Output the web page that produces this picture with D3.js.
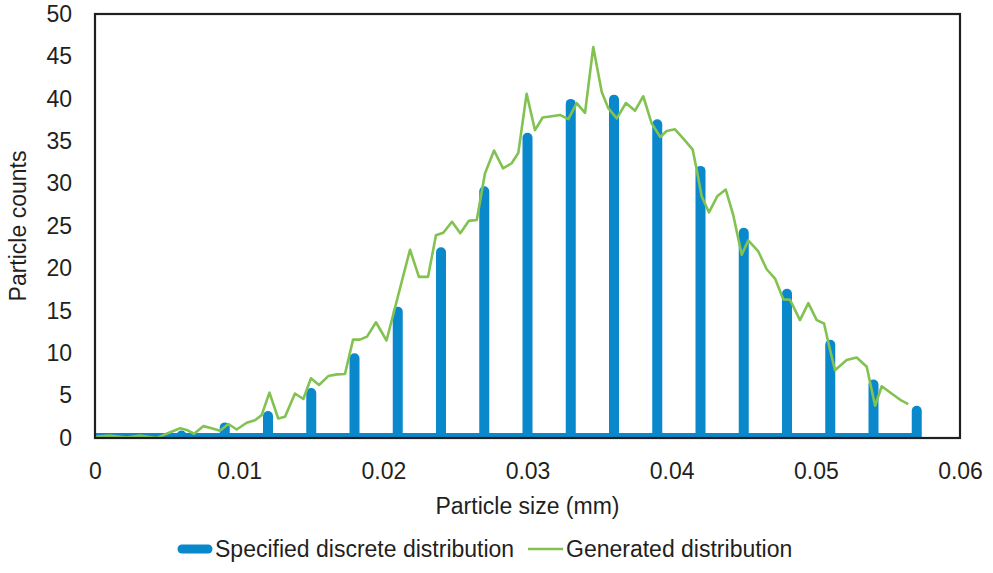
<!DOCTYPE html>
<html>
<head>
<meta charset="utf-8">
<script src="https://cdn.jsdelivr.net/npm/d3@7"></script>
<style>
body{ margin:0; background:#fff; }
text{ font-family: "Liberation Sans", Arial, sans-serif; fill:#231f20; }
</style>
</head>
<body>
<svg id="chart" width="993" height="573"></svg>
<script>
// specified discrete distribution (bars every 0.003 mm)
var barSizes = [0.003, 0.006, 0.009, 0.012, 0.015, 0.018, 0.021, 0.024, 0.027, 0.030,
	0.033, 0.036, 0.039, 0.042, 0.045, 0.048, 0.051, 0.054, 0.057];
var barCounts = [0.0, 0.3, 1.25, 2.6, 5.3, 9.4, 14.9, 21.9, 29.1, 35.4,
	39.4, 39.9, 37.0, 31.5, 24.2, 17.0, 11.0, 6.3, 3.2];

// generated distribution
var genSizes = [0, 0.00104, 0.0022, 0.00312, 0.00428, 0.00497, 0.0059, 0.00636, 0.00687, 0.00751,
	0.00809, 0.00867, 0.00925, 0.00983, 0.01052, 0.0111, 0.01156, 0.0121, 0.01271, 0.01318,
	0.01387, 0.01445, 0.01498, 0.01554, 0.01618, 0.01679, 0.01734, 0.0179, 0.01838, 0.01887,
	0.01949, 0.02022, 0.02185, 0.02247, 0.0231, 0.02365, 0.02416, 0.02476, 0.02534, 0.02592,
	0.02648, 0.02705, 0.02768, 0.0283, 0.0289, 0.02936, 0.02994, 0.03052, 0.03105, 0.03168,
	0.03225, 0.03283, 0.03341, 0.03399, 0.03456, 0.03515, 0.0356, 0.03619, 0.03683, 0.03746,
	0.03803, 0.03861, 0.03921, 0.03965, 0.04023, 0.04081, 0.04146, 0.04174, 0.04208, 0.04259,
	0.04316, 0.04375, 0.04427, 0.04486, 0.04531, 0.04601, 0.04659, 0.04717, 0.04774, 0.04821,
	0.0489, 0.04948, 0.05006, 0.05057, 0.05093, 0.05133, 0.05214, 0.05283, 0.05353, 0.05411,
	0.05457, 0.05537, 0.05595, 0.05641];
var genCounts = [0.15, 0.3, 0.05, 0.3, 0.0, 0.5, 1.15, 0.95, 0.5, 1.4,
	1.15, 0.85, 1.65, 1.0, 1.8, 2.1, 2.7, 5.35, 2.3, 2.5,
	5.25, 4.6, 7.05, 6.25, 7.3, 7.5, 7.55, 11.6, 11.6, 11.95,
	13.65, 11.5, 22.2, 19.0, 19.0, 23.9, 24.2, 25.5, 24.15, 25.6,
	25.7, 31.2, 33.9, 31.8, 32.4, 33.6, 40.6, 36.3, 37.8, 37.95,
	38.1, 37.6, 39.5, 38.35, 46.1, 40.8, 38.9, 37.7, 39.5, 38.6,
	40.3, 37.1, 35.5, 36.2, 36.4, 35.3, 34.0, 31.6, 28.5, 26.6,
	28.5, 29.3, 26.3, 21.6, 23.3, 22.0, 19.9, 18.8, 16.35, 16.3,
	13.9, 15.9, 13.9, 13.5, 10.8, 8.0, 9.2, 9.5, 8.4, 3.8,
	6.1, 5.1, 4.4, 4.0];

var xTicks = [0, 0.01, 0.02, 0.03, 0.04, 0.05, 0.06];
var yTicks = [0, 5, 10, 15, 20, 25, 30, 35, 40, 45, 50];

var blue = '#0a88cc', green = '#82c250', ink = '#231f20';
var pLeft = 95, pRight = 960, pTop = 14, pBottom = 438;

var svg = d3.select('#chart');
var x = d3.scaleLinear().domain([0, 0.06]).range([pLeft, pRight]);
var y = d3.scaleLinear().domain([0, 50]).range([pBottom, pTop]);

svg.append('clipPath').attr('id', 'plot')
	.append('rect')
	.attr('x', pLeft).attr('y', pTop)
	.attr('width', pRight - pLeft).attr('height', pBottom - pTop);

var plot = svg.append('g').attr('clip-path', 'url(#plot)');

// blue baseline along zero
plot.append('line')
	.attr('x1', x(0)).attr('x2', x(barSizes[barSizes.length - 1]))
	.attr('y1', y(0)).attr('y2', y(0))
	.attr('stroke', blue).attr('stroke-width', 10);

plot.selectAll('line.bar').data(barSizes).enter().append('line')
	.attr('class', 'bar')
	.attr('x1', function(d){ return x(d); })
	.attr('x2', function(d){ return x(d); })
	.attr('y1', y(0) + 10)
	.attr('y2', function(d, i){ return y(barCounts[i]); })
	.attr('stroke', blue).attr('stroke-width', 10)
	.attr('stroke-linecap', 'round');

var line = d3.line()
	.x(function(d){ return x(d); })
	.y(function(d, i){ return y(genCounts[i]); });

plot.append('path')
	.datum(genSizes)
	.attr('d', line)
	.attr('fill', 'none')
	.attr('stroke', green).attr('stroke-width', 2.6)
	.attr('stroke-linejoin', 'round');

// frame
svg.append('rect')
	.attr('x', pLeft).attr('y', pTop)
	.attr('width', pRight - pLeft).attr('height', pBottom - pTop)
	.attr('fill', 'none').attr('stroke', ink).attr('stroke-width', 2.2);

var xAxis = d3.axisBottom(x).tickValues(xTicks).tickSize(0).tickPadding(25)
	.tickFormat(function(d){ return d === 0 ? '0' : d3.format('.2f')(d); });
var yAxis = d3.axisLeft(y).tickValues(yTicks).tickSize(0).tickPadding(23)
	.tickFormat(d3.format('d'));

var gx = svg.append('g').attr('transform', 'translate(0,' + pBottom + ')').call(xAxis);
var gy = svg.append('g').attr('transform', 'translate(' + pLeft + ',0)').call(yAxis);
[gx, gy].forEach(function(g){
	g.select('.domain').remove();
	g.selectAll('text').attr('font-size', 23).attr('fill', ink)
		.style('font-family', '"Liberation Sans", Arial, sans-serif');
});

svg.append('text')
	.attr('x', (pLeft + pRight) / 2).attr('y', 514)
	.attr('text-anchor', 'middle').attr('font-size', 23)
	.text('Particle size (mm)');

svg.append('text')
	.attr('transform', 'translate(26,' + ((pTop + pBottom) / 2) + ') rotate(-90)')
	.attr('text-anchor', 'middle').attr('font-size', 23)
	.text('Particle counts');

// legend
var lg = svg.append('g').attr('transform', 'translate(0,549)');
lg.append('line')
	.attr('x1', 182).attr('x2', 208).attr('y1', 0).attr('y2', 0)
	.attr('stroke', blue).attr('stroke-width', 9).attr('stroke-linecap', 'round');
lg.append('text').attr('x', 215).attr('y', 8).attr('font-size', 23)
	.text('Specified discrete distribution');
lg.append('line')
	.attr('x1', 528).attr('x2', 563).attr('y1', 0).attr('y2', 0)
	.attr('stroke', green).attr('stroke-width', 2.6);
lg.append('text').attr('x', 566).attr('y', 8).attr('font-size', 23)
	.text('Generated distribution');
</script>
</body>
</html>
